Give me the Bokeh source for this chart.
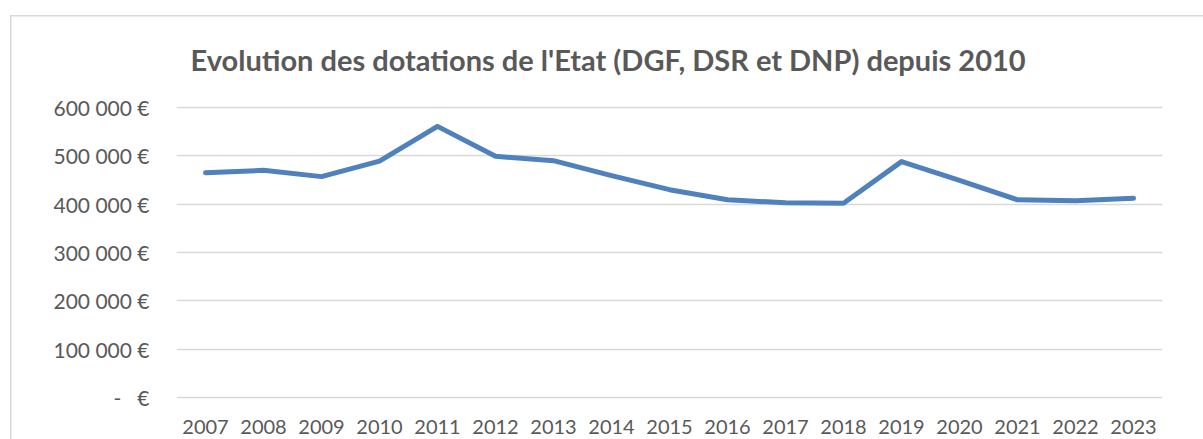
from bokeh.plotting import figure
from bokeh.models import ColumnDataSource, FixedTicker, Range1d, FactorRange
from bokeh.embed import file_html
from bokeh.resources import INLINE

title_text = "Evolution des dotations de l'Etat (DGF, DSR et DNP) depuis 2010"
years = ["2007", "2008", "2009", "2010", "2011", "2012", "2013", "2014", "2015",
         "2016", "2017", "2018", "2019", "2020", "2021", "2022", "2023"]
dotations = [465000, 470000, 457000, 489000, 561000, 499000, 490000, 459000, 430000,
             409000, 403000, 402000, 488000, 449000, 409000, 407000, 412000]
y_ticks = [0, 100000, 200000, 300000, 400000, 500000, 600000]
y_tick_labels = ["-\u00a0\u00a0\u00a0€", "100\u00a0000\u00a0€", "200\u00a0000\u00a0€", "300\u00a0000\u00a0€",
                 "400\u00a0000\u00a0€", "500\u00a0000\u00a0€", "600\u00a0000\u00a0€"]

FONT = "Lato"
GREY = "#595959"

p = figure(width=1203, height=439, output_backend="svg", toolbar_location=None,
           x_range=FactorRange(*years, range_padding=0), y_range=Range1d(-4138, 604138),
           min_border_left=176, min_border_right=41, min_border_top=105, min_border_bottom=40,
           title=title_text)
p.styles = {"background": "linear-gradient(#d9d9d9,#d9d9d9) 10px 15px / 1.5px 100% no-repeat, "
                          "linear-gradient(#d9d9d9,#d9d9d9) 10px 15px / 100% 1.5px no-repeat, white"}
p.outline_line_color = None
p.background_fill_color = "white"
p.border_fill_alpha = 0

p.title.align = "left"
p.title.offset = 14
p.title.standoff = 57
p.title.text_font = FONT
p.title.text_font_style = "bold"
p.title.text_font_size = "29px"
p.title.text_color = GREY

src = ColumnDataSource(dict(x=years, y=dotations))
p.line("x", "y", source=src, line_color="#4F81BD", line_width=5, line_join="round", line_cap="round")

p.yaxis.ticker = FixedTicker(ticks=y_ticks)
p.yaxis.major_label_overrides = {t: l for t, l in zip(y_ticks, y_tick_labels)}
for ax in (p.xaxis, p.yaxis):
    ax.axis_line_color = None
    ax.major_tick_line_color = None
    ax.minor_tick_line_color = None
    ax.major_label_text_font = FONT
    ax.major_label_text_font_size = "20px"
    ax.major_label_text_color = GREY
p.yaxis.major_label_text_font_size = "21px"
p.yaxis.major_label_standoff = 21
p.xaxis.major_label_standoff = 14

p.xgrid.grid_line_color = None
p.ygrid.grid_line_color = "#d9d9d9"
p.ygrid.grid_line_width = 1.5

open("out.html", "w").write(file_html(p, INLINE))
